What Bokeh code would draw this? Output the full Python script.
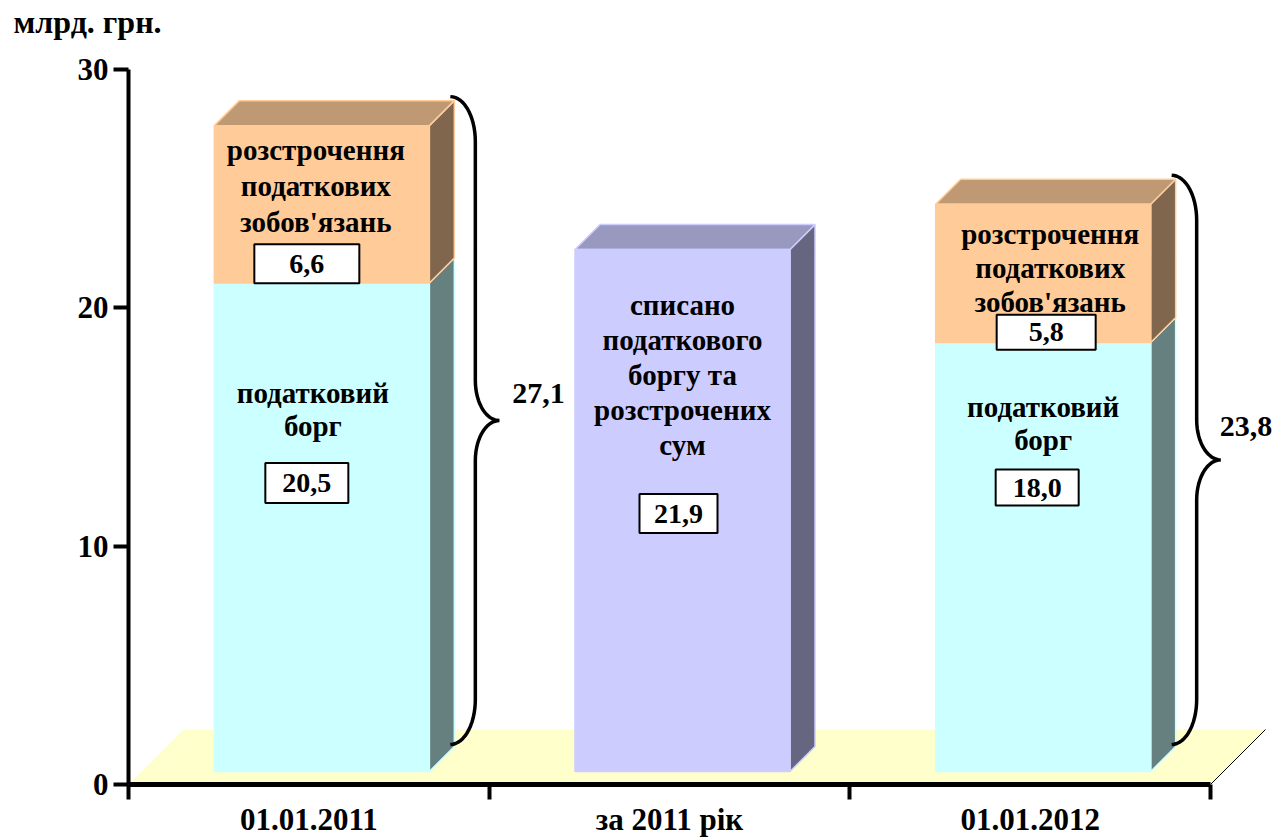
import numpy as np
from bokeh.plotting import figure
from bokeh.layouts import column
from bokeh.models import Range1d, FixedTicker
from bokeh.embed import file_html
from bokeh.resources import INLINE
from bokeh.core.properties import value

# ---------------- data ----------------
categories = ["01.01.2011", "за 2011 рік", "01.01.2012"]
tax_debt = [20.5, 0.0, 18.0]          # податковий борг
installments = [6.6, 0.0, 5.8]        # розстрочення податкових зобов'язань
written_off = [0.0, 21.9, 0.0]        # списано податкового боргу та розстрочених сум
totals = [27.1, None, 23.8]
y_ticks = [0, 10, 20, 30]
units_label = "млрд. грн."
debt_lines = ["податковий", "борг"]
inst_lines = ["розстрочення", "податкових", "зобов'язань"]
woff_lines = ["списано", "податкового", "боргу та", "розстрочених", "сум"]

# ---------------- layout ----------------
W = 1280
H_TOP = 44
H = 840 - H_TOP
BL, BB = 128, 56            # frame borders (left, bottom)
SX = 360.67                 # px per category
SY = 23.833                 # px per value unit
FONT = "Liberation Serif"
FS_TXT = "29px"
FS_BOX = "28px"
FS_AX = "31px"
FS_TOT = "30px"

frame_w = W - BL
frame_h = H - BB
x_end = frame_w / SX
y_end = frame_h / SY

def dxp(px):
    return px / SX

def dyp(px):
    return px / SY

FLOOR_D = 55     # floor depth px
FRONT_D = 13     # bar front depth px
BAR_D = 25       # bar depth px
HALF_W = 107.5   # half bar width px

cyan_f, cyan_t, cyan_s = "#CCFFFF", "#99BFBF", "#668080"
peach_f, peach_t, peach_s = "#FFCC99", "#BF9973", "#80664D"
lav_f, lav_t, lav_s = "#CCCCFF", "#9999BF", "#666680"

# ---- top strip with the units caption ----
top = figure(width=W, height=H_TOP, output_backend="svg", toolbar_location=None,
             x_range=Range1d(0, W), y_range=Range1d(0, H_TOP),
             x_axis_type=None, y_axis_type=None,
             min_border_left=0, min_border_right=0, min_border_top=0, min_border_bottom=0)
top.frame_align = False
top.outline_line_color = None
top.xgrid.visible = False
top.ygrid.visible = False
top.text([13], [H_TOP - 21], text=[units_label], text_font=value(FONT), text_font_style="bold",
         text_font_size="32px", text_align="left", text_baseline="middle", text_color="black")

# ---- main chart ----
p = figure(width=W, height=H, output_backend="svg", toolbar_location=None,
           x_range=Range1d(0, x_end), y_range=Range1d(0, y_end),
           min_border_left=BL, min_border_bottom=BB, min_border_top=0, min_border_right=0)
p.frame_align = False
p.outline_line_color = None
p.xgrid.visible = False
p.ygrid.visible = False
p.background_fill_color = "white"

# floor
n = len(categories)
p.patch([0, n, n + dxp(FLOOR_D), dxp(FLOOR_D)], [0, 0, dyp(FLOOR_D), dyp(FLOOR_D)],
        fill_color="#FFFFCC", line_color=None)
p.line([n, n + dxp(FLOOR_D)], [0, dyp(FLOOR_D)], line_color="black", line_width=1)

# bars
fq = dict(left=[], right=[], bottom=[], top=[], fill=[], line=[])
pxs, pys, pfill, pline = [], [], [], []
fdx, fdy = dxp(FRONT_D), dyp(FRONT_D)
bdx, bdy = dxp(BAR_D), dyp(BAR_D)
bar_geom = []
for i in range(n):
    segs = []
    base = 0.0
    for v, cols in ((tax_debt[i], (cyan_f, cyan_t, cyan_s)),
                    (written_off[i], (lav_f, lav_t, lav_s)),
                    (installments[i], (peach_f, peach_t, peach_s))):
        if v > 0:
            segs.append((base, base + v, cols))
            base += v
    cx = i + 0.5
    L = cx - dxp(HALF_W) + fdx
    R = cx + dxp(HALF_W) + fdx
    for k, (b, t, (cf, ct, cs)) in enumerate(segs):
        yb, yt = b + fdy, t + fdy
        pxs.append([R, R, R + bdx, R + bdx]); pys.append([yb, yt, yt + bdy, yb + bdy])
        pfill.append(cs); pline.append(cf)
        if k == len(segs) - 1:
            pxs.append([L, R, R + bdx, L + bdx]); pys.append([yt, yt, yt + bdy, yt + bdy])
            pfill.append(ct); pline.append(cf)
        fq["left"].append(L); fq["right"].append(R)
        fq["bottom"].append(yb); fq["top"].append(yt)
        fq["fill"].append(cf); fq["line"].append(cf)
    bar_geom.append(dict(L=L, R=R, cx=(L + R) / 2, segs=[(b + fdy, t + fdy) for b, t, _ in segs],
                         top=base + fdy + bdy, bottom=fdy + bdy))

p.patches(pxs, pys, fill_color=pfill, line_color=pline, line_width=1.5)
p.quad(left=fq["left"], right=fq["right"], bottom=fq["bottom"], top=fq["top"],
       fill_color=fq["fill"], line_color=fq["line"], line_width=1.5)

# texts inside bars: (bar, segment, lines, x offset px, first line offset px, spacing px,
#                     box x offset px, box offset px, box w, box h, value)
blocks = [
    (0, 0, debt_lines, -9, 110, 33, -15, 200, 83, 40, tax_debt[0]),
    (0, 1, inst_lines, -6, 24, 36, -15, 138, 105, 39, installments[0]),
    (1, 0, woff_lines, 0, 55, 35, -4, 264, 78, 39, written_off[1]),
    (2, 0, debt_lines, 0, 64, 33, -6, 145, 83, 36, tax_debt[2]),
    (2, 1, inst_lines, 7, 30, 34, 3, 128, 99, 35, installments[2]),
]
tx, ty, tt = [], [], []
bx, by, bw, bh, btt = [], [], [], [], []
for bi, si, lines, xo, fo, sp, bxo, bo, w, h, v in blocks:
    g = bar_geom[bi]
    seg_top = g["segs"][si][1]
    for j, line in enumerate(lines):
        tx.append(g["cx"] + dxp(xo)); ty.append(seg_top - dyp(fo + j * sp)); tt.append(line)
    bx.append(g["cx"] + dxp(bxo)); by.append(seg_top - dyp(bo)); bw.append(w); bh.append(h)
    btt.append(f"{v:.1f}".replace(".", ","))

p.text(tx, ty, text=tt, text_font=value(FONT), text_font_style="bold", text_font_size=FS_TXT,
       text_align="center", text_baseline="middle", text_color="black")
p.rect(bx, by, width=bw, height=bh, width_units="screen", height_units="screen",
       fill_color="white", line_color="black", line_width=2)
p.text(bx, by, text=btt, text_font=value(FONT), text_font_style="bold", text_font_size=FS_BOX,
       text_align="center", text_baseline="middle", text_color="black")

# braces with totals
def brace(x0, ytop, ybot, w1=25, w2=24, r1=45, r2=40):
    Yt, Yb = ytop * SY, ybot * SY
    Ym = (Yt + Yb) / 2
    a = np.linspace(np.pi / 2, 0, 16)
    X1, Y1 = w1 * np.cos(a), Yt - r1 + r1 * np.sin(a)
    b = np.linspace(0, np.pi / 2, 16)
    X2, Y2 = w1 + w2 - w2 * np.cos(b), Ym + r2 - r2 * np.sin(b)
    b2 = b[::-1]
    X3, Y3 = w1 + w2 - w2 * np.cos(b2), Ym - r2 + r2 * np.sin(b2)
    a2 = np.linspace(0, -np.pi / 2, 16)
    X4, Y4 = w1 * np.cos(a2), Yb + r1 + r1 * np.sin(a2)
    X = np.concatenate([X1, X2, X3, X4]); Y = np.concatenate([Y1, Y2, Y3, Y4])
    return x0 + X / SX, Y / SY, x0 + (w1 + w2) / SX, Ym / SY

lab_off = {0: (13, 27), 2: (-1, 33)}
lx, ly, lt = [], [], []
for i in range(n):
    if totals[i] is None:
        continue
    g = bar_geom[i]
    xs, ys, tipx, tipy = brace(g["R"] + bdx - dxp(4), g["top"] + dyp(4), g["bottom"] + dyp(2))
    p.line(xs, ys, line_color="black", line_width=3.5)
    ox, oy = lab_off[i]
    lx.append(tipx + dxp(ox)); ly.append(tipy + dyp(oy)); lt.append(f"{totals[i]:.1f}".replace(".", ","))
p.text(lx, ly, text=lt, text_font=value(FONT), text_font_style="bold", text_font_size=FS_TOT,
       text_align="left", text_baseline="middle", text_color="black")

# axes
ya = p.yaxis[0]
ya.ticker = FixedTicker(ticks=y_ticks)
ya.bounds = (0, 30)
ya.axis_line_width = 4
ya.axis_line_color = "black"
ya.major_tick_line_width = 4
ya.major_tick_out = 15
ya.major_tick_in = 0
ya.minor_tick_line_color = None
ya.major_label_standoff = 5
ya.major_label_text_font = FONT
ya.major_label_text_font_style = "bold"
ya.major_label_text_font_size = FS_AX
ya.major_label_text_color = "black"

xa = p.xaxis[0]
xa.ticker = FixedTicker(ticks=[i + 0.5 for i in range(n)], minor_ticks=list(range(n + 1)))
xa.major_label_overrides = {i + 0.5: c for i, c in enumerate(categories)}
xa.bounds = (0, n)
xa.axis_line_width = 5
xa.axis_line_color = "black"
xa.major_tick_line_color = None
xa.major_tick_out = 0
xa.major_tick_in = 0
xa.minor_tick_line_width = 4
xa.minor_tick_line_color = "black"
xa.minor_tick_out = 15
xa.minor_tick_in = 0
xa.major_label_standoff = 2
xa.major_label_text_font = FONT
xa.major_label_text_font_style = "bold"
xa.major_label_text_font_size = FS_AX
xa.major_label_text_color = "black"

layout = column(top, p, spacing=0)
open("out.html", "w").write(file_html(layout, INLINE))
